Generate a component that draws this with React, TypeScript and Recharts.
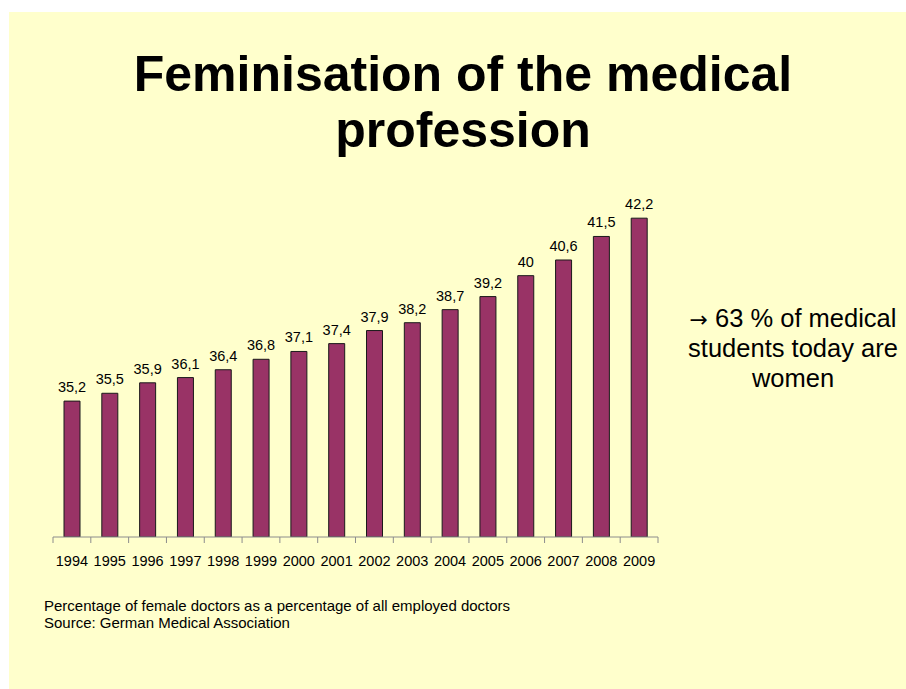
import React from 'react';
import { BarChart, Bar, XAxis, YAxis, LabelList } from 'recharts';

const years = ['1994','1995','1996','1997','1998','1999','2000','2001','2002','2003','2004','2005','2006','2007','2008','2009'];
const shares = [35.2,35.5,35.9,36.1,36.4,36.8,37.1,37.4,37.9,38.2,38.7,39.2,40,40.6,41.5,42.2];
const titleLines = ['Feminisation of the medical', 'profession'];
const noteArrow = '\u2192';
const noteLines = [' 63 % of medical', 'students today are', 'women'];
const footerLines = ['Percentage of female doctors as a percentage of all employed doctors', 'Source: German Medical Association'];

const data = years.map((y, i) => ({ year: y, value: shares[i] }));

const FONT = '"Liberation Sans", Arial, Helvetica, sans-serif';
const W = 906;
const H = 689;
const PLOT_LEFT = 53;
const PLOT_RIGHT = 658;
const PLOT_TOP = 145;
const PLOT_BOTTOM = 537;
const BAND = (PLOT_RIGHT - PLOT_LEFT) / years.length;

const YearTick = (props: any) => {
  const { x, payload, index } = props;
  const yb = PLOT_BOTTOM;
  return (
    <g>
      <line x1={x - BAND / 2} x2={x - BAND / 2} y1={yb} y2={yb + 6} stroke="#8c8c8c" strokeWidth={1} />
      {index === years.length - 1 && (
        <line x1={x + BAND / 2} x2={x + BAND / 2} y1={yb} y2={yb + 6} stroke="#8c8c8c" strokeWidth={1} />
      )}
      <text x={x} y={yb + 29} textAnchor="middle" fontFamily={FONT} fontSize={14.5} fill="#000">
        {payload.value}
      </text>
    </g>
  );
};

const fmt = (v: any) => String(v).replace('.', ',');

export default function App() {
  return (
    <div style={{ position: 'absolute', left: 0, top: 0, width: W, height: H, background: '#fff', overflow: 'hidden' }}>
      <div style={{ position: 'absolute', left: 9, top: 12, width: W - 9, height: H - 12, background: '#FFFFCC' }} />
      {titleLines.map((t, i) => (
        <div key={i} style={{ position: 'absolute', left: 0, width: 926, top: 44 + i * 56, textAlign: 'center', fontFamily: FONT, fontWeight: 'bold', fontSize: 50, lineHeight: '60px', color: '#000', whiteSpace: 'nowrap' }}>{t}</div>
      ))}
      <div style={{ position: 'absolute', left: 0, top: 0 }}>
        <BarChart width={W} height={H} data={data}
          margin={{ left: PLOT_LEFT, right: W - PLOT_RIGHT, top: PLOT_TOP, bottom: H - PLOT_BOTTOM - 30 }}>
          <YAxis hide domain={[30, 45]} type="number" allowDataOverflow />
          <XAxis dataKey="year" height={30} interval={0} tickLine={false} axisLine={{ stroke: '#8c8c8c', strokeWidth: 1 }} tick={<YearTick />} />
          <Bar dataKey="value" fill="#993366" stroke="#1a1a1a" strokeWidth={1} barSize={16} isAnimationActive={false}>
            <LabelList dataKey="value" position="top" offset={9} formatter={fmt} style={{ fontFamily: FONT, fontSize: 14.5, fill: '#000' }} />
          </Bar>
        </BarChart>
      </div>
      {noteLines.map((t, i) => (
        <div key={i} style={{ position: 'absolute', left: 683, width: 220, top: 304 + i * 30, textAlign: 'center', fontFamily: FONT, fontSize: 25.5, lineHeight: '28px', color: '#000', whiteSpace: 'nowrap' }}>
          {i === 0 && <span style={{ fontFamily: '"DejaVu Sans", sans-serif', fontSize: 22 }}>{noteArrow}</span>}
          {t}
        </div>
      ))}
      {footerLines.map((t, i) => (
        <div key={i} style={{ position: 'absolute', left: 44, top: 597 + i * 17, fontFamily: FONT, fontSize: 15, lineHeight: '17px', color: '#000', whiteSpace: 'nowrap' }}>{t}</div>
      ))}
    </div>
  );
}
